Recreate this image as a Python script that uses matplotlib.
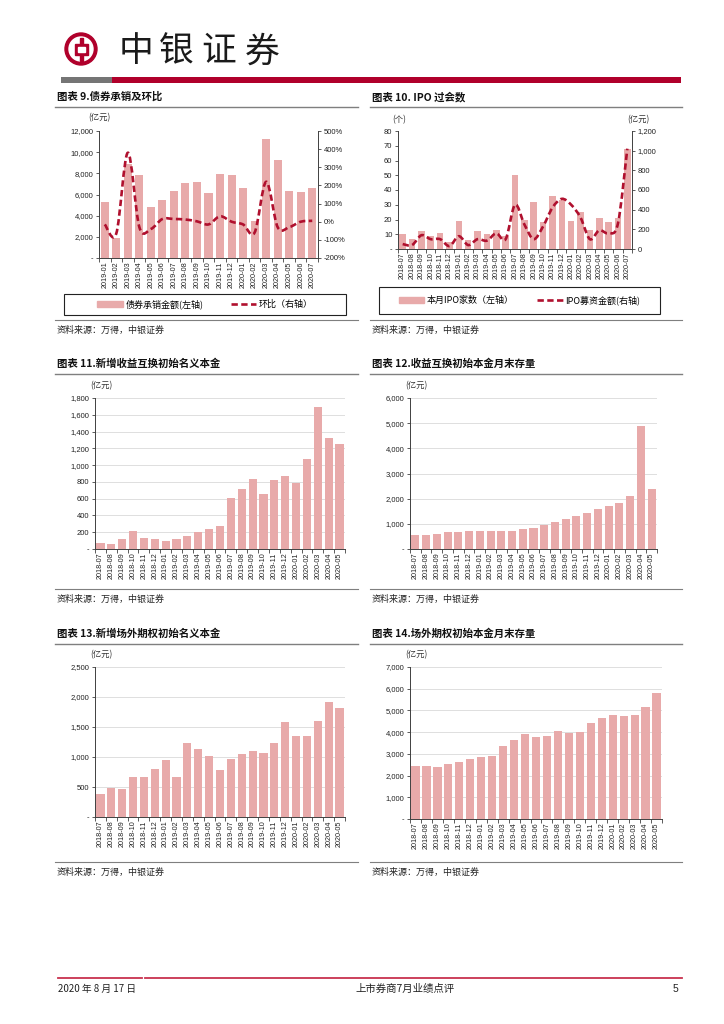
import numpy as np
import matplotlib.pyplot as plt
from matplotlib.path import Path
from matplotlib.patches import PathPatch, Circle, Rectangle
from matplotlib.lines import Line2D
from matplotlib.ticker import FuncFormatter

plt.rcParams['font.family'] = ['Liberation Sans', 'Noto Sans CJK SC', 'DejaVu Sans']
CJK = ['Noto Sans CJK SC', 'DejaVu Sans']

# month labels 2018-07 .. 2020-07
months = ['2018-07', '2018-08', '2018-09', '2018-10', '2018-11', '2018-12',
          '2019-01', '2019-02', '2019-03', '2019-04', '2019-05', '2019-06',
          '2019-07', '2019-08', '2019-09', '2019-10', '2019-11', '2019-12',
          '2020-01', '2020-02', '2020-03', '2020-04', '2020-05', '2020-06',
          '2020-07']
months_bond = months[6:]      # 2019-01 .. 2020-07
months_swap = months[:23]     # 2018-07 .. 2020-05

# chart 9
bond_amount = [5300, 1850, 8900, 7850, 4800, 5450, 6300, 7050, 7150, 6100,
               7900, 7850, 6650, 3500, 11250, 9300, 6350, 6250, 6650]
bond_mom = [-15, -65, 380, -30, -40, 15, 15, 12, 2, -15, 30, 0, -15, -60,
            220, -30, -30, 0, 5]
# chart 10
ipo_count = [10, 7, 12, 9, 11, 5, 19, 6, 12, 10, 13, 9, 50, 20, 32, 18, 36,
             33, 19, 25, 13, 21, 18, 21, 68]
ipo_amount = [50, 40, 140, 100, 100, 30, 130, 40, 100, 85, 160, 100, 450,
              250, 100, 230, 420, 510, 450, 320, 100, 190, 160, 260, 1020]
# chart 11-14
swap_new = [70, 60, 115, 215, 130, 125, 100, 115, 150, 200, 240, 275, 605,
            715, 840, 655, 820, 865, 790, 1070, 1690, 1325, 1250]
swap_stock = [550, 550, 590, 660, 660, 720, 710, 720, 720, 720, 790, 850,
              960, 1080, 1190, 1320, 1420, 1580, 1720, 1810, 2110, 4880, 2380]
option_new = [380, 490, 470, 660, 660, 800, 955, 670, 1230, 1140, 1020, 790,
              960, 1045, 1100, 1070, 1230, 1585, 1345, 1355, 1600, 1910, 1820]
option_stock = [2430, 2430, 2410, 2530, 2640, 2770, 2860, 2880, 3380, 3650,
                3910, 3790, 3820, 4070, 3980, 4020, 4400, 4640, 4810, 4730,
                4810, 5170, 5800]

BAR = '#E8AAAA'
LINE = '#B0102E'
RED = '#B0002B'
AXC = '#404040'

W, H = 724, 1024
fig = plt.figure(figsize=(W / 100, H / 100), dpi=100)

# overlay in pixel coordinates for page decorations
pg = fig.add_axes([0, 0, 1, 1], zorder=0)
pg.set_xlim(0, W)
pg.set_ylim(H, 0)
pg.axis('off')


def px_axes(x0, y0, x1, y1):
    a = fig.add_axes([x0 / W, 1 - y1 / H, (x1 - x0) / W, (y1 - y0) / H], zorder=2)
    a.set_facecolor('none')
    return a


def num_fmt(v, p):
    return '-' if abs(v) < 1e-9 else f'{v:,.0f}'


def style_bar_axis(ax, labels, ymax, ystep, grid=True, fmt=num_fmt):
    n = len(labels)
    ax.set_xlim(-0.5, n - 0.5)
    ax.set_xticks(range(n))
    ax.set_xticklabels(labels, rotation=90, fontsize=5.2, color='#222222')
    ax.set_xticks(np.arange(-0.5, n, 1), minor=True)
    ax.tick_params(axis='x', which='major', length=0, pad=2.5)
    ax.tick_params(axis='x', which='minor', length=3, color=AXC, width=0.6)
    ax.set_ylim(0, ymax)
    ax.set_yticks(np.arange(0, ymax + ystep / 2, ystep))
    ax.yaxis.set_major_formatter(FuncFormatter(fmt))
    ax.tick_params(axis='y', labelsize=5.5, length=2, width=0.6, color=AXC, pad=2,
                   labelcolor='#222222')
    for s in ['top', 'right']:
        ax.spines[s].set_visible(False)
    for s in ['left', 'bottom']:
        ax.spines[s].set_color(AXC)
        ax.spines[s].set_linewidth(0.7)
    if grid:
        ax.yaxis.grid(True, color='#D9D9D9', lw=0.6)
        ax.set_axisbelow(True)


def smooth_path(xs, ys):
    pts = np.column_stack([xs, ys]).astype(float)
    n = len(pts)
    verts = [pts[0]]
    codes = [Path.MOVETO]
    for i in range(n - 1):
        p0 = pts[i - 1] if i > 0 else pts[i]
        p1, p2 = pts[i], pts[i + 1]
        p3 = pts[i + 2] if i + 2 < n else pts[i + 1]
        verts += [p1 + (p2 - p0) / 6, p2 - (p3 - p1) / 6, p2]
        codes += [Path.CURVE4] * 3
    return Path(verts, codes)


DASH = (0, (2.4, 1.3))


def title_block(x0, x1, y_title, s):
    pg.text(x0 + 2, y_title, s, fontsize=7.5, fontweight='bold', family=CJK,
            ha='left', va='center', color='#111111')
    pg.plot([x0, x1], [y_title + 10, y_title + 10], color='#7F7F7F', lw=1.0)


def source_block(x0, x1, y_line):
    pg.plot([x0, x1], [y_line, y_line], color='#7F7F7F', lw=0.8)
    pg.text(x0 + 2, y_line + 10, '资料来源：万得，中银证券', fontsize=6.5, family=CJK,
            style='italic', ha='left', va='center', color='#222222')


def unit_label(x, y, s):
    pg.text(x, y, s, fontsize=6, family=CJK, ha='left', va='center', color='#333333')


def legend_box(x0, y0, x1, y1, handles, labels, spacing):
    pg.add_patch(Rectangle((x0, y0), x1 - x0, y1 - y0, fill=False, ec='#222222', lw=0.8))
    leg = fig.legend(handles, labels, loc='center',
                     bbox_to_anchor=(((x0 + x1) / 2) / W, 1 - ((y0 + y1) / 2) / H),
                     bbox_transform=fig.transFigure, ncol=2, frameon=False,
                     prop={'family': CJK, 'size': 6.5}, handlelength=2.8,
                     handleheight=0.7, handletextpad=0.3, columnspacing=spacing)
    return leg


# ---------------- header ----------------
pg.add_patch(Circle((81, 49), 16, color=RED))
pg.add_patch(Circle((81, 49), 12, color='white'))
pg.add_patch(Rectangle((79.5, 37.5), 3, 23, color=RED))
pg.add_patch(Rectangle((74.5, 43.5), 13, 11, color=RED))
pg.add_patch(Rectangle((77.5, 46.5), 7, 5, color='white'))
for ch, cx in zip('中银证券', [136, 176, 219, 262]):
    pg.text(cx, 52, ch, fontsize=25, family=CJK, ha='center', va='center', color='#1a1a1a')
pg.add_patch(Rectangle((61, 77), 51, 6, color='#757575', lw=0))
pg.add_patch(Rectangle((112, 77), 569, 6, color=RED, lw=0))

# ---------------- chart 9 ----------------
title_block(55, 358, 97, '图表 9.债券承销及环比')
ax = px_axes(99, 131, 318, 258)
x = np.arange(len(months_bond))
ax.bar(x, bond_amount, width=0.7, color=BAR)
style_bar_axis(ax, months_bond, 12000, 2000, grid=False)
ax2 = ax.twinx()
ax2.set_facecolor('none')
ax2.set_ylim(-200, 500)
ax2.set_yticks(np.arange(-200, 501, 100))
ax2.yaxis.set_major_formatter(FuncFormatter(lambda v, p: f'{v:.0f}%'))
ax2.tick_params(axis='y', labelsize=5.5, length=2, width=0.6, color=AXC, pad=2,
                labelcolor='#222222')
for s in ['top', 'left', 'bottom']:
    ax2.spines[s].set_visible(False)
ax2.spines['right'].set_color(AXC)
ax2.spines['right'].set_linewidth(0.7)
ax2.add_patch(PathPatch(smooth_path(x, bond_mom), fill=False, ec=LINE, lw=1.9,
                        linestyle=DASH, capstyle='butt'))
unit_label(88, 118, '(亿元)')
legend_box(64, 294, 346, 315,
           [Rectangle((0, 0), 1, 1, color=BAR),
            Line2D([], [], color=LINE, lw=1.9, linestyle=DASH)],
           ['债券承销金额(左轴)', '环比（右轴）'], 3.0)
source_block(55, 358, 320)

# ---------------- chart 10 ----------------
title_block(370, 682, 97, '图表 10. IPO 过会数')
ax = px_axes(398, 131, 632, 249)
x = np.arange(len(months))
ax.bar(x, ipo_count, width=0.7, color=BAR)
style_bar_axis(ax, months, 80, 10, grid=False)
ax2 = ax.twinx()
ax2.set_facecolor('none')
ax2.set_ylim(0, 1200)
ax2.set_yticks(np.arange(0, 1201, 200))
ax2.yaxis.set_major_formatter(FuncFormatter(lambda v, p: f'{v:,.0f}'))
ax2.tick_params(axis='y', labelsize=5.5, length=2, width=0.6, color=AXC, pad=2,
                labelcolor='#222222')
for s in ['top', 'left', 'bottom']:
    ax2.spines[s].set_visible(False)
ax2.spines['right'].set_color(AXC)
ax2.spines['right'].set_linewidth(0.7)
ax2.add_patch(PathPatch(smooth_path(x, ipo_amount), fill=False, ec=LINE, lw=1.9,
                        linestyle=DASH, capstyle='butt'))
unit_label(392, 120, '(个)')
unit_label(627, 120, '(亿元)')
legend_box(379, 287, 660, 314,
           [Rectangle((0, 0), 1, 1, color=BAR),
            Line2D([], [], color=LINE, lw=1.9, linestyle=DASH)],
           ['本月IPO家数（左轴）', 'IPO募资金额(右轴)'], 2.6)
source_block(370, 682, 320)

# ---------------- chart 11 ----------------
title_block(55, 358, 364, '图表 11.新增收益互换初始名义本金')
ax = px_axes(95, 398, 345, 549)
ax.bar(np.arange(len(months_swap)), swap_new, width=0.75, color=BAR)
style_bar_axis(ax, months_swap, 1800, 200)
unit_label(90, 386, '(亿元)')
source_block(55, 358, 589)

# ---------------- chart 12 ----------------
title_block(370, 682, 364, '图表 12.收益互换初始本金月末存量')
ax = px_axes(410, 398, 657, 549)
ax.bar(np.arange(len(months_swap)), swap_stock, width=0.75, color=BAR)
style_bar_axis(ax, months_swap, 6000, 1000)
unit_label(405, 386, '(亿元)')
source_block(370, 682, 589)

# ---------------- chart 13 ----------------
title_block(55, 358, 634, '图表 13.新增场外期权初始名义本金')
ax = px_axes(95, 667, 345, 817)
ax.bar(np.arange(len(months_swap)), option_new, width=0.75, color=BAR)
style_bar_axis(ax, months_swap, 2500, 500)
unit_label(90, 655, '(亿元)')
source_block(55, 358, 862)

# ---------------- chart 14 ----------------
title_block(370, 682, 634, '图表 14.场外期权初始本金月末存量')
ax = px_axes(410, 667, 662, 819)
ax.bar(np.arange(len(months_swap)), option_stock, width=0.75, color=BAR)
style_bar_axis(ax, months_swap, 7000, 1000)
unit_label(405, 655, '(亿元)')
source_block(370, 682, 862)

# ---------------- footer ----------------
pg.plot([58, 142], [978, 978], color='#C8324E', lw=1.3)
pg.plot([145, 682], [978, 978], color='#C8324E', lw=1.3)
pg.text(58, 989, '2020 年 8 月 17 日', fontsize=7, family=CJK, ha='left', va='center',
        color='#222222')
pg.text(405, 989, '上市券商7月业绩点评', fontsize=7.5, family=CJK, ha='center',
        va='center', color='#222222')
pg.text(678, 989, '5', fontsize=7.5, ha='right', va='center', color='#222222')

fig.savefig('out.png', dpi=100)
